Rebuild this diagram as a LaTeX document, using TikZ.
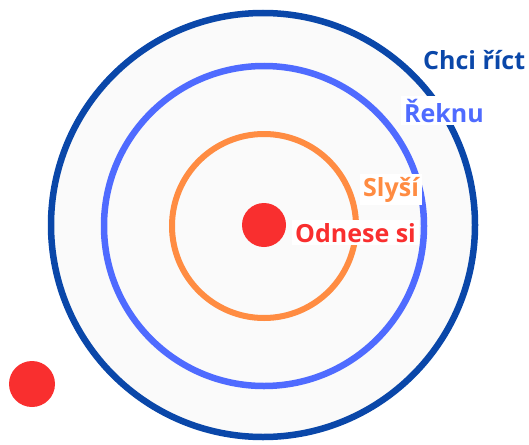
\documentclass[tikz,border=0pt]{standalone}
\usepackage{fontspec}
\setmainfont{Open Sans}
\definecolor{cdark}{HTML}{0A47A9}
\definecolor{cblue}{HTML}{4F6BFF}
\definecolor{corange}{HTML}{FF8C42}
\definecolor{cred}{HTML}{F92F2F}
\definecolor{cfill}{HTML}{FAFAFA}
\tikzset{
  ring/.style={draw, line width=6.5pt},
  lbl/.style={fill=white, inner sep=3pt, anchor=base west, font=\fontsize{25}{29}\selectfont\bfseries},
  dot/.style={circle, fill=cred, draw=none, minimum size=44pt, inner sep=0pt}
}
\begin{document}
\begin{tikzpicture}[x=1pt,y=-1pt]
\useasboundingbox (0,0) rectangle (529,444);
\fill[cfill] (263,225) circle (212);
\draw[ring, cdark] (263,225) circle (212);
\draw[ring, cblue] (264,226) circle (160);
\draw[ring, corange, line width=6pt] (264,226) circle (92);
\node[dot] (center) at (264,225) {};
\node[dot, minimum size=46pt] (outside) at (32,384) {};
\node[lbl, text=cdark, fill=none] (chci) at (420,69) {Chci říct};
\node[lbl, text=cblue] (reknu) at (401,122) {Řeknu};
\node[lbl, text=corange] (slysi) at (360,196) {Slyší};
\node[lbl, text=cred] (odnese) at (292,242) {Odnese si};
\end{tikzpicture}
\end{document}
